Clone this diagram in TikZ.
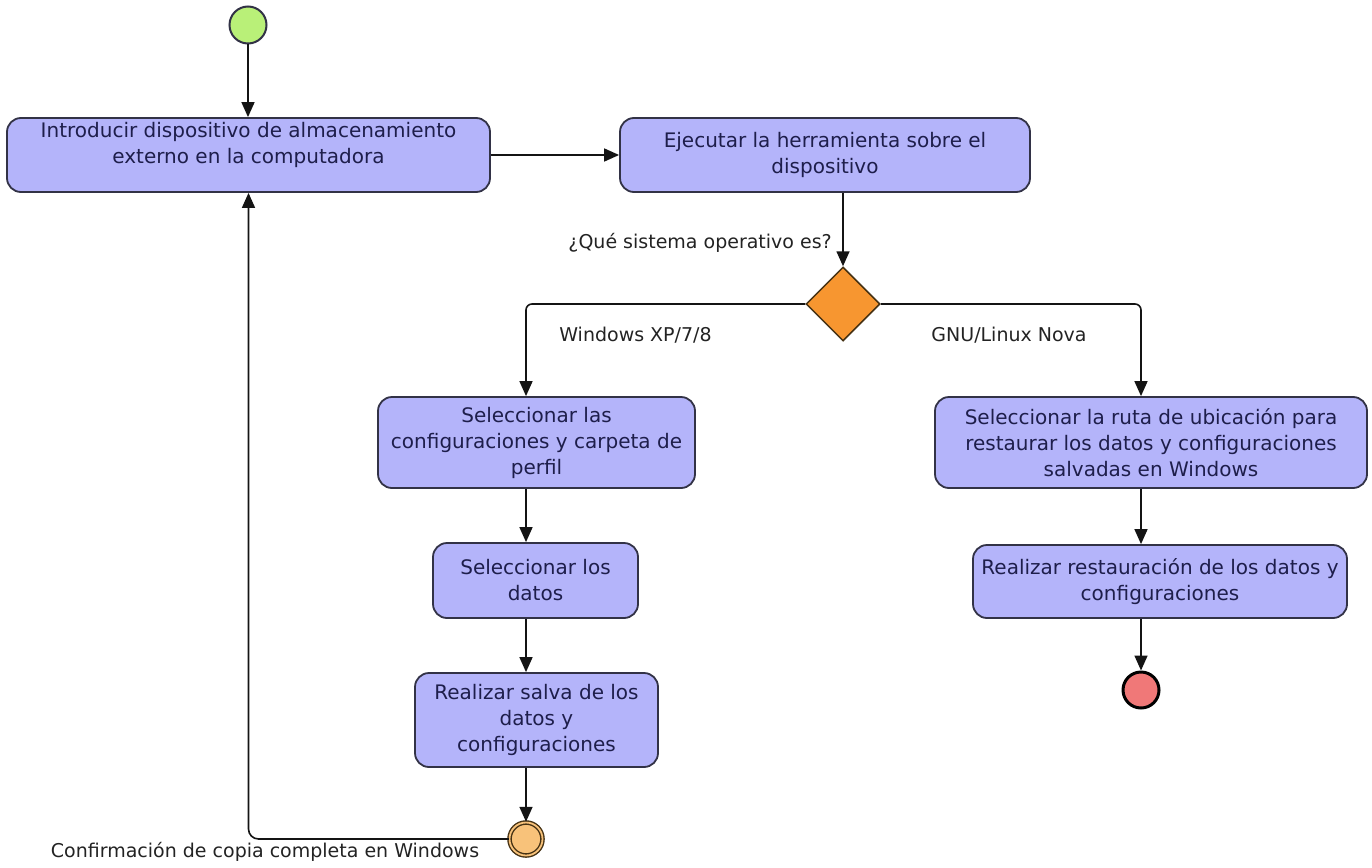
\documentclass[tikz,border=0pt]{standalone}
\usepackage{fontspec}
\setmainfont{DejaVu Sans}
\usetikzlibrary{arrows.meta,shapes.geometric,calc}
\definecolor{boxfill}{RGB}{180,180,250}
\definecolor{boxline}{RGB}{50,50,70}
\definecolor{boxtext}{RGB}{30,30,75}
\definecolor{linecol}{RGB}{20,20,20}
\definecolor{lbltext}{RGB}{35,35,35}
\definecolor{startgreen}{RGB}{185,240,120}
\definecolor{diaorange}{RGB}{247,150,48}
\definecolor{endred}{RGB}{240,120,120}
\definecolor{conforange}{RGB}{248,194,122}
\definecolor{confline}{RGB}{70,50,20}
\begin{document}
\begin{tikzpicture}[x=1pt,y=-1pt,
  abox/.style={draw=boxline, fill=boxfill, rounded corners=14pt, line width=1.8pt,
    align=center, text=boxtext, font=\fontsize{20}{26}\selectfont, inner sep=0pt},
  boxtxt/.style={align=center, text=boxtext, font=\fontsize{20}{26}\selectfont, inner sep=0pt},
  lbl/.style={text=lbltext, font=\fontsize{19}{24}\selectfont, inner sep=0pt},
  conn/.style={draw=linecol, line width=1.6pt, -{Triangle[length=15pt,width=13pt]}}
]
\useasboundingbox (0,0) rectangle (1372,867);

% nodes
\node[circle, minimum size=37pt, inner sep=0pt, fill=startgreen, draw=boxline, line width=2pt] (start) at (248,25) {};

\node[abox, minimum width=483pt, minimum height=74pt] (b1) at (248.5,155) {};
\node[boxtxt] (b1t) at (248.5,145) {Introducir dispositivo de almacenamiento\\externo en la computadora};

\node[abox, minimum width=410pt, minimum height=74pt] (b2) at (825,155) {Ejecutar la herramienta sobre el\\dispositivo};

\node[diamond, aspect=1, minimum width=74pt, minimum height=74pt, inner sep=0pt, fill=diaorange, draw=confline, line width=1.5pt] (dia) at (843,304) {};

\node[abox, minimum width=317pt, minimum height=91pt] (b3) at (536.5,442.5) {Seleccionar las\\configuraciones y carpeta de\\perfil};
\node[abox, minimum width=205pt, minimum height=75pt] (b4) at (535.5,580.5) {Seleccionar los\\datos};
\node[abox, minimum width=243pt, minimum height=94pt] (b5) at (536.5,720) {Realizar salva de los\\datos y\\configuraciones};

\node[circle, minimum size=33pt, inner sep=0pt, fill=conforange, draw=confline, line width=1.4pt, double=conforange, double distance=1.8pt] (conf) at (526,839) {};

\node[abox, minimum width=432pt, minimum height=91pt] (b6) at (1151,442.5) {Seleccionar la ruta de ubicación para\\restaurar los datos y configuraciones\\salvadas en Windows};
\node[abox, minimum width=374pt, minimum height=73pt] (b7) at (1160,581.5) {Realizar restauración de los datos y\\configuraciones};

\node[circle, minimum size=36pt, inner sep=0pt, fill=endred, draw=black, line width=3pt] (end) at (1141,690) {};

% labels
\node[lbl, anchor=east] (q) at (832,243) {¿Qué sistema operativo es?};
\node[lbl] (w) at (635.5,335) {Windows XP/7/8};
\node[lbl] (g) at (1009,335) {GNU/Linux Nova};
\node[lbl] (c) at (265,852) {Confirmación de copia completa en Windows};

% helper columns
\coordinate (lx) at (526,0);
\coordinate (rx) at (1141,0);

% connectors
\draw[conn] (start.south) -- (start.south |- b1.north);
\draw[conn] (b1.east) -- (b2.west);
\draw[conn] (dia.north |- b2.south) -- (dia.north);
\draw[conn, rounded corners=6pt] (dia.west) -| (lx |- b3.north);
\draw[conn, rounded corners=6pt] (dia.east) -| (rx |- b6.north);
\draw[conn] (lx |- b3.south) -- (lx |- b4.north);
\draw[conn] (lx |- b4.south) -- (lx |- b5.north);
\draw[conn] (lx |- b5.south) -- (conf.north);
\draw[conn, rounded corners=10pt] (conf.west) -| (b1.south);
\draw[conn] (rx |- b6.south) -- (rx |- b7.north);
\draw[conn] (rx |- b7.south) -- (end.north);
\end{tikzpicture}
\end{document}
